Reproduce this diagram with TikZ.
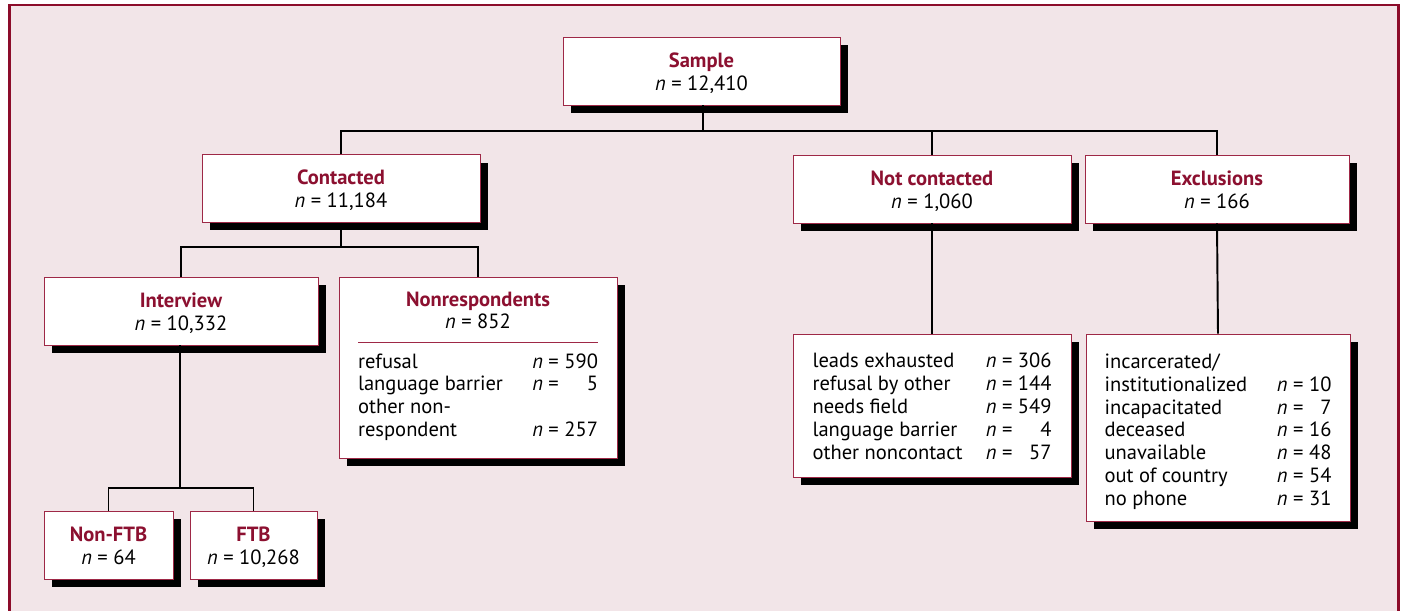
\documentclass[tikz,border=0pt]{standalone}
\usepackage{fontspec}
\setmainfont{PT Sans}
\usetikzlibrary{shadows}
\definecolor{framered}{RGB}{140,12,42}
\definecolor{boxred}{RGB}{158,40,70}
\definecolor{ttlred}{RGB}{140,16,48}
\definecolor{bgpink}{RGB}{242,229,232}
\newcommand{\boxtitle}[1]{{\bfseries\color{ttlred}#1}}
\newcommand{\toptitle}[1]{\rule{0pt}{12.8pt}\boxtitle{#1}}
\newcommand{\nval}[1]{\textit{n} = #1\rule[-3.9pt]{0pt}{3.9pt}}
\tikzset{
	box/.style = {draw = boxred, line width = 0.5pt, fill = white, inner sep = 0pt,
		font = \fontsize{11.7}{13}\selectfont,
		drop shadow = {shadow xshift = 0.16cm, shadow yshift = -0.16cm, fill = black, opacity = 1}},
	conn/.style = {line width = 1.1pt}
}
\begin{document}
\begin{tikzpicture}[x = 0.02cm, y = -0.02cm]
\useasboundingbox (0,0) rectangle (1401,611);
\fill[bgpink] (9.5,5) rectangle (1398.5,611);
\draw[framered, line width = 0.05cm] (9.5,615) -- (9.5,5) -- (1398.5,5) -- (1398.5,615);
% top level
\node[box, minimum width = 5.54cm, minimum height = 1.36cm, align = center] (sample) at (701.5,71)
	{\toptitle{Sample}\\\nval{12,410}};
\node[box, minimum width = 5.56cm, minimum height = 1.36cm, align = center] (contacted) at (341,188.5)
	{\toptitle{Contacted}\\\nval{11,184}};
\node[box, minimum width = 5.56cm, minimum height = 1.36cm, align = center] (notcont) at (932,189)
	{\toptitle{Not contacted}\\\nval{1,060}};
\node[box, minimum width = 5.28cm, minimum height = 1.36cm, align = center] (excl) at (1217,189)
	{\toptitle{Exclusions}\\\nval{166}};
% contacted branch
\node[box, minimum width = 5.48cm, minimum height = 1.36cm, align = center] (interview) at (181,311)
	{\toptitle{Interview}\\\nval{10,332}};
\node[box, minimum width = 5.56cm, minimum height = 3.62cm] (nonresp) at (478,367.5)
	{\begin{tabular*}{4.8cm}{@{}l@{\extracolsep{\fill}}r@{\extracolsep{0pt}\ }r@{}}
	\multicolumn{3}{c}{\boxtitle{Nonrespondents}}\\
	\multicolumn{3}{c}{\textit{n} = 852}\\
	\noalign{\vskip 3.4pt{\color{boxred}\hrule height 0.7pt}\vskip 5.2pt}
	refusal & \textit{n} = & 590\\
	language barrier & \textit{n} = & 5\\
	other non-\\
	respondent & \textit{n} = & 257\\
	\noalign{\vskip 0.8pt}
	\end{tabular*}};
\node[box, minimum width = 2.58cm, minimum height = 1.36cm, align = center] (nonftb) at (108.5,545)
	{\toptitle{Non-FTB}\\\nval{64}};
\node[box, minimum width = 2.54cm, minimum height = 1.36cm, align = center] (ftb) at (253.5,545)
	{\toptitle{FTB}\\\nval{10,268}};
% details
\node[box, minimum width = 5.56cm, minimum height = 2.86cm] (ncdetail) at (932,405.5)
	{\begin{tabular*}{4.78cm}{@{}l@{\extracolsep{\fill}}r@{\extracolsep{0pt}\ }r@{}}
	\noalign{\vskip 4pt}
	leads exhausted & \textit{n} = & 306\\
	refusal by other & \textit{n} = & 144\\
	needs field & \textit{n} = & 549\\
	language barrier & \textit{n} = & 4\\
	other noncontact & \textit{n} = & 57
	\end{tabular*}};
\node[box, minimum width = 5.28cm, minimum height = 3.74cm] (exdetail) at (1218,427.5)
	{\begin{tabular*}{4.54cm}{@{}l@{\extracolsep{\fill}}r@{\extracolsep{0pt}\ }r@{}}
	\noalign{\vskip 5.5pt}
	incarcerated/\\
	institutionalized & \textit{n} = & 10\\
	incapacitated & \textit{n} = & 7\\
	deceased & \textit{n} = & 16\\
	unavailable & \textit{n} = & 48\\
	out of country & \textit{n} = & 54\\
	no phone & \textit{n} = & 31
	\end{tabular*}};
% connectors
\coordinate (bus1) at (703,131);
\coordinate (bus2) at (341,247);
\coordinate (bus3) at (180,488);
\draw[conn] (sample.south -| bus1) -- (bus1);
\foreach \n in {contacted, notcont, excl}
{
	\draw[conn] (\n.north) |- (bus1);
}
\draw[conn] (contacted.south) -- (bus2);
\foreach \n in {interview, nonresp}
{
	\draw[conn] (\n.north) |- (bus2);
}
\draw[conn] (interview.south -| bus3) -- (bus3);
\foreach \n in {nonftb, ftb}
{
	\draw[conn] (\n.north) |- (bus3);
}
\draw[conn] (notcont.south) -- (ncdetail.north);
\draw[conn] (excl.south) -- (exdetail.north);
\end{tikzpicture}
\end{document}
